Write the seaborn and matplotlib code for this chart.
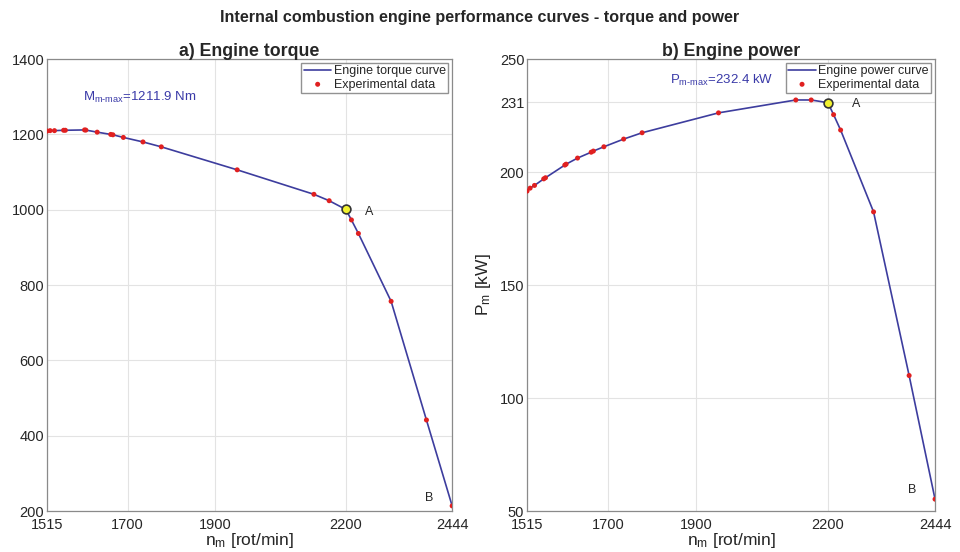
import numpy as np
import pandas as pd
import seaborn as sns
import matplotlib
matplotlib.use("Agg")
import matplotlib.pyplot as plt

# ---- data ----
rpm = [1515, 1522, 1532, 1553, 1557, 1601, 1604, 1630, 1661, 1666, 1690, 1735,
       1777, 1951, 2127, 2162, 2200, 2213, 2229, 2304, 2385, 2444]
torque = [1209, 1210, 1210, 1211, 1211, 1211.9, 1211.5, 1206, 1200, 1199, 1192, 1180,
          1167, 1106, 1041, 1024, 1001, 973, 937, 757, 442, 214]
power = [191.6, 192.9, 194.1, 197.0, 197.5, 203.1, 203.5, 206.2, 208.8, 209.3, 211.2, 214.6,
         217.4, 226.2, 231.9, 231.9, 230.7, 225.4, 218.6, 182.4, 110.0, 55.3]
point_a_idx = 16
point_b_idx = 21
x_ticks = [1515, 1700, 1900, 2200, 2444]
torque_ticks = [200, 400, 600, 800, 1000, 1200, 1400]
power_ticks = [50, 100, 150, 200, 231, 250]

df = pd.DataFrame({"rpm": rpm, "torque": torque, "power": power})

sns.set_style("white")
plt.rcParams["font.family"] = ["Liberation Sans", "DejaVu Sans"]
plt.rcParams["mathtext.fontset"] = "custom"
plt.rcParams["mathtext.rm"] = "Liberation Sans"
plt.rcParams["mathtext.it"] = "Liberation Sans"

LINE = "#3d3d9e"
DOT = "#e02020"
TXT = "#3a3aa8"

fig = plt.figure(figsize=(9.6, 5.52), dpi=100)
ax1 = fig.add_axes([0.049, 0.074, 0.422, 0.819])
ax2 = fig.add_axes([0.549, 0.074, 0.425, 0.819])

fig.suptitle("Internal combustion engine performance curves - torque and power",
             x=0.5, y=0.982, fontsize=11.6, fontweight="bold")

def style(ax, yticks, ylim):
    ax.set_xlim(1515, 2444)
    ax.set_ylim(*ylim)
    ax.set_xticks(x_ticks)
    ax.set_yticks(yticks)
    ax.grid(True, color="#e3e3e3", linewidth=0.8)
    ax.set_axisbelow(True)
    for s in ax.spines.values():
        s.set_color("#8a8a8a")
        s.set_linewidth(0.9)
    ax.tick_params(direction="in", length=3, labelsize=10.5, color="#8a8a8a",
                   labelcolor="#262626", pad=2)
    ax.tick_params(axis="x", pad=5)
    ax.set_xlabel("n$_{m}$ [rot/min]", fontsize=12.5, labelpad=-1)

# ---- a) torque ----
sns.lineplot(data=df, x="rpm", y="torque", ax=ax1, color=LINE, linewidth=1.2,
             label="Engine torque curve", sort=False)
sns.scatterplot(data=df, x="rpm", y="torque", ax=ax1, color=DOT, s=13,
                edgecolor="none", label="Experimental data", zorder=3)
ax1.scatter([rpm[point_a_idx]], [torque[point_a_idx]], s=40, facecolor="#f2f230",
            edgecolor="#333333", linewidth=1.2, zorder=4)
style(ax1, torque_ticks, (200, 1400))
ax1.set_ylabel("")
ax1.set_title("a) Engine torque", fontsize=12.8, fontweight="bold", pad=2)
ax1.text(rpm[point_a_idx] + 45, torque[point_a_idx] - 8, "A", fontsize=9, va="center")
ax1.text(2391, 235, "B", fontsize=9, va="center", ha="center")
ax1.text(1598, 1298, "M$_{m\\text{-}max}$=1211.9 Nm", color=TXT, fontsize=9.5, va="center")
leg1 = ax1.legend(loc="upper right", fontsize=9, frameon=True, fancybox=False,
                  borderpad=0.2, labelspacing=0.1, handlelength=2.2, handletextpad=0.2,
                  borderaxespad=0.3)
leg1.get_frame().set_edgecolor("#777777")

# ---- b) power ----
sns.lineplot(data=df, x="rpm", y="power", ax=ax2, color=LINE, linewidth=1.2,
             label="Engine power curve", sort=False)
sns.scatterplot(data=df, x="rpm", y="power", ax=ax2, color=DOT, s=13,
                edgecolor="none", label="Experimental data", zorder=3)
ax2.scatter([rpm[point_a_idx]], [power[point_a_idx]], s=40, facecolor="#f2f230",
            edgecolor="#333333", linewidth=1.2, zorder=4)
style(ax2, power_ticks, (50, 250))
ax2.set_ylabel("P$_{m}$ [kW]", fontsize=12.5, labelpad=5)
ax2.set_title("b) Engine power", fontsize=12.8, fontweight="bold", pad=2)
ax2.text(rpm[point_a_idx] + 55, power[point_a_idx] - 0.8, "A", fontsize=9, va="center")
ax2.text(2392, 59.3, "B", fontsize=9, va="center", ha="center")
ax2.text(1841, 240.7, "P$_{m\\text{-}max}$=232.4 kW", color=TXT, fontsize=9.5, va="center")
leg2 = ax2.legend(loc="upper right", fontsize=9, frameon=True, fancybox=False,
                  borderpad=0.2, labelspacing=0.1, handlelength=2.2, handletextpad=0.2,
                  borderaxespad=0.3)
leg2.get_frame().set_edgecolor("#777777")

fig.savefig("out.png", dpi=100)
